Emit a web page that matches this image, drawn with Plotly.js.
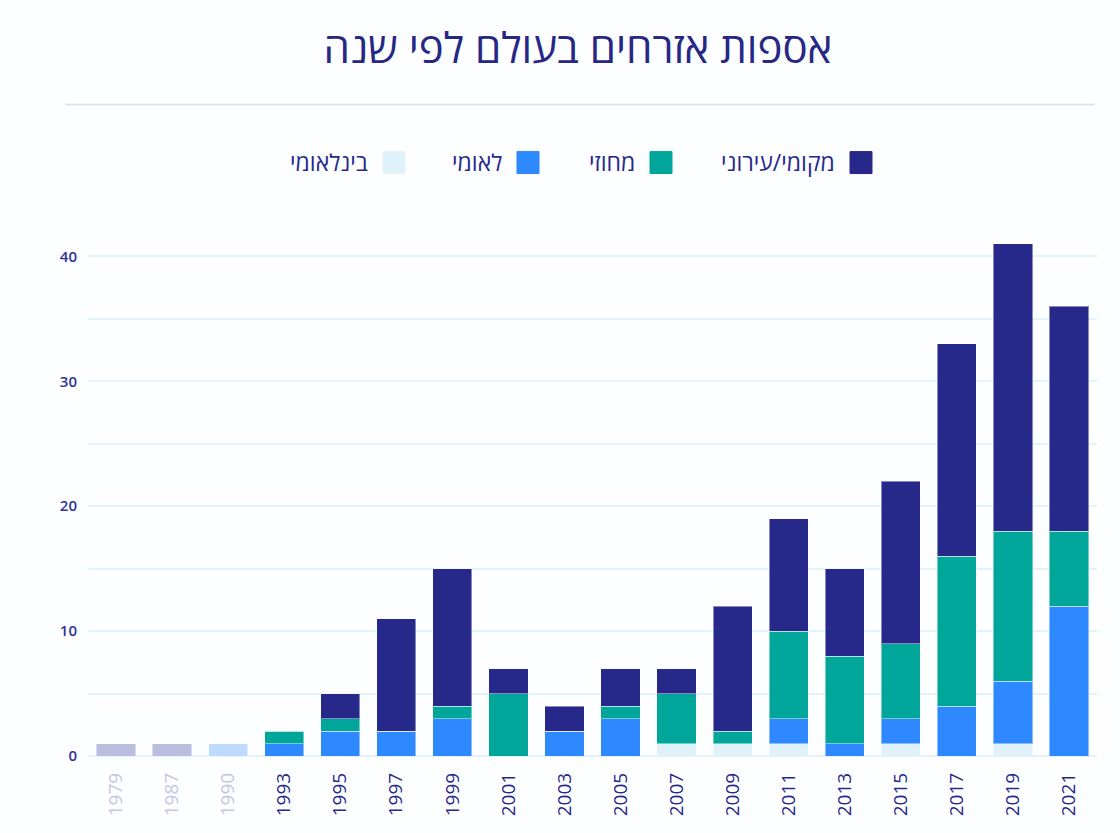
<!DOCTYPE html>
<html>
<head>
<meta charset="utf-8">
<script src="https://cdn.plot.ly/plotly-3.0.1.min.js"></script>
<style>
  html, body { margin: 0; padding: 0; background: #fdfeff; }
  #chart { width: 1120px; height: 833px; }
</style>
</head>
<body>
<div id="chart"></div>
<script>
// ---- data ----
const years = ['1979','1987','1990','1993','1995','1997','1999','2001','2003','2005','2007','2009','2011','2013','2015','2017','2019','2021'];
// the first three years are shown de-emphasised in the reference
const faded = [true, true, true, false, false, false, false, false, false, false, false, false, false, false, false, false, false, false];

const seriesNames = ['בינלאומי', 'לאומי', 'מחוזי', 'מקומי/עירוני'];
const international = [0, 0, 0, 0, 0, 0, 0, 0, 0, 0, 1, 1, 1, 0, 1, 0, 1, 0];
const national      = [0, 0, 1, 1, 2, 2, 3, 0, 2, 3, 0, 0, 2, 1, 2, 4, 5, 12];
const regional      = [0, 0, 0, 1, 1, 0, 1, 5, 0, 1, 4, 1, 7, 7, 6, 12, 12, 6];
const local         = [1, 1, 0, 0, 2, 9, 11, 2, 2, 3, 2, 10, 9, 7, 13, 17, 23, 18];

const yTickVals = [0, 5, 10, 15, 20, 25, 30, 35, 40];
const yTickText = ['0', '', '10', '', '20', '', '30', '', '40'];

const titleText = 'אספות אזרחים בעולם לפי שנה';

// ---- style ----
const colors = ['#dff1f9', '#2e88ff', '#00a69a', '#27298a'];
const fadedColors = ['#f1f9fc', '#bedbff', '#b3e4e0', '#bcbedd'];
const textColor = '#27298a';
const fadedText = '#c3c6e4';
const gridColor = '#e2f3fa';
const FONT = '"Open Sans", "DejaVu Sans", sans-serif';

const seriesValues = [international, national, regional, local];

const traces = seriesValues.map((vals, i) => ({
  type: 'bar',
  name: seriesNames[i],
  x: years,
  y: vals,
  marker: {
    color: years.map((_, k) => faded[k] ? fadedColors[i] : colors[i]),
    line: { width: 1, color: 'rgba(255,255,255,0.45)' }
  },
  hoverinfo: 'x+y+name',
  showlegend: false
}));

const tickText = years.map((y, k) => faded[k] ? `<span style="color:${fadedText}">${y}</span>` : y);

// plot geometry (pixels)
const W = 1120, H = 833;
const mL = 88, mR = 23, mT = 218.5, mB = 77;
const plotW = W - mL - mR, plotH = H - mT - mB;
const px2x = p => (p - mL) / plotW;
const py2y = p => (H - mB - p) / plotH;

// custom right-to-left legend: square to the right of its label
const legendSquareRight = [405, 539, 672, 872];
const legendY = 162;
const sq = 22;
const shapes = [];
const annotations = [];
seriesNames.forEach((name, i) => {
  const r = legendSquareRight[i];
  shapes.push({
    type: 'rect', xref: 'paper', yref: 'paper',
    x0: px2x(r - sq), x1: px2x(r), y0: py2y(legendY + sq / 2), y1: py2y(legendY - sq / 2),
    fillcolor: colors[i], line: { width: 1, color: i === 0 ? '#e6f3fa' : colors[i] }
  });
  annotations.push({
    xref: 'paper', yref: 'paper', x: px2x(r - sq - 13), y: py2y(legendY - 1),
    xanchor: 'right', yanchor: 'middle', showarrow: false,
    text: name, font: { family: FONT, size: 23, color: textColor }
  });
});
// separator line under the title
shapes.push({
  type: 'line', xref: 'paper', yref: 'paper',
  x0: px2x(65), x1: px2x(1095), y0: py2y(104), y1: py2y(104),
  line: { color: '#dcdff2', width: 1.5 }
});

const layout = {
  width: W, height: H,
  paper_bgcolor: '#fdfeff',
  plot_bgcolor: '#fdfeff',
  margin: { l: mL, r: mR, t: mT, b: mB, pad: 0 },
  barmode: 'stack',
  bargap: 0.3,
  title: {
    text: titleText,
    x: 0.516, xanchor: 'center',
    y: 1 - 48 / H, yanchor: 'middle', yref: 'container',
    font: { family: FONT, size: 42, color: '#262884' }
  },
  xaxis: {
    type: 'category',
    tickvals: years,
    ticktext: tickText,
    tickangle: -90,
    tickfont: { family: FONT, size: 19, color: textColor },
    ticklabelstandoff: 12,
    showgrid: false,
    showline: false,
    zeroline: false,
    ticks: '',
    automargin: false
  },
  yaxis: {
    range: [0, 43],
    tickvals: yTickVals,
    ticktext: yTickText,
    tickfont: { family: FONT, size: 15, color: '#2f3394', weight: 600 },
    showgrid: true,
    gridcolor: gridColor,
    gridwidth: 2,
    zeroline: true,
    zerolinecolor: gridColor,
    zerolinewidth: 2,
    ticks: '',
    ticklabelstandoff: 10,
    automargin: false,
    fixedrange: true
  },
  shapes: shapes,
  annotations: annotations,
  showlegend: false
};

Plotly.newPlot('chart', traces, layout, { displayModeBar: false, staticPlot: false });
</script>
</body>
</html>
